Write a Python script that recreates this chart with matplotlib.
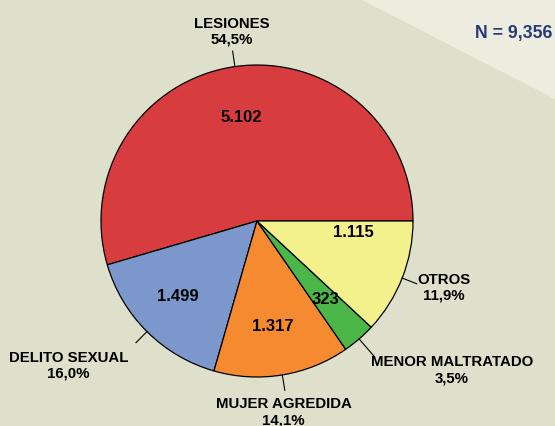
import numpy as np
import matplotlib
matplotlib.use("Agg")
import matplotlib.pyplot as plt
from matplotlib.patches import Polygon

plt.rcParams['font.family'] = ['Liberation Sans', 'DejaVu Sans']

categories = ["LESIONES", "DELITO SEXUAL", "MUJER AGREDIDA", "MENOR MALTRATADO", "OTROS"]
counts = [5102, 1499, 1317, 323, 1115]
value_labels = ["5.102", "1.499", "1.317", "323", "1.115"]
pct_labels = ["54,5%", "16,0%", "14,1%", "3,5%", "11,9%"]
colors = ["#d73c3f", "#7b97cc", "#f58a30", "#4cb749", "#f3f18b"]
total_label = "N = 9,356"

# inner value label positions (x, y) relative to pie centre, radius = 1
inner_xy = [(-0.10, 0.67), (-0.51, -0.48), (0.10, -0.67), (0.44, -0.50), (0.62, -0.07)]
# outer label positions relative to pie centre
outer_xy = [(-0.16, 1.22), (-1.21, -0.92), (0.17, -1.22), (1.25, -0.95), (1.2, -0.42)]
leader_end = [1.1, 1.1, 1.1, 1.15, 1.1]

W, H = 555, 427
cx, cy, R = 257, 222, 156  # pixels

fig = plt.figure(figsize=(W / 100, H / 100), dpi=100)
fig.patch.set_facecolor("#dfe0cb")
ax = fig.add_axes([0, 0, 1, 1])
ax.set_facecolor("#dfe0cb")

wedges, _ = ax.pie(counts, colors=colors, startangle=0, counterclock=True, radius=1,
                   wedgeprops=dict(edgecolor="black", linewidth=0.9))
ax.set_aspect("auto")
ax.set_xlim(-cx / R, (W - cx) / R)
ax.set_ylim(-(H - cy) / R, cy / R)
ax.axis("off")

# lighter triangle in the upper right corner
tri = Polygon([(360 / W, 1), (1, 1), (1, 1 - 100 / H)], closed=True,
              transform=ax.transAxes, facecolor="#ecedde", edgecolor="none", zorder=0)
ax.add_patch(tri)

for i, w in enumerate(wedges):
    mid = np.deg2rad((w.theta1 + w.theta2) / 2)
    ix, iy = inner_xy[i]
    ax.text(ix, iy, value_labels[i], ha="center", va="center",
            fontsize=12, fontweight="bold")
    # leader line
    ax.plot([np.cos(mid), leader_end[i] * np.cos(mid)],
            [np.sin(mid), leader_end[i] * np.sin(mid)], color="black", lw=0.8)
    ox, oy = outer_xy[i]
    ax.text(ox, oy, categories[i] + "\n" + pct_labels[i], ha="center", va="center",
            fontsize=10.8, fontweight="bold", linespacing=1.15)

ax.text(0.925, 0.922, total_label, transform=ax.transAxes, ha="center", va="center",
        fontsize=12.8, fontweight="bold", color="#283a78")

fig.savefig("out.png", dpi=100, facecolor=fig.get_facecolor())
